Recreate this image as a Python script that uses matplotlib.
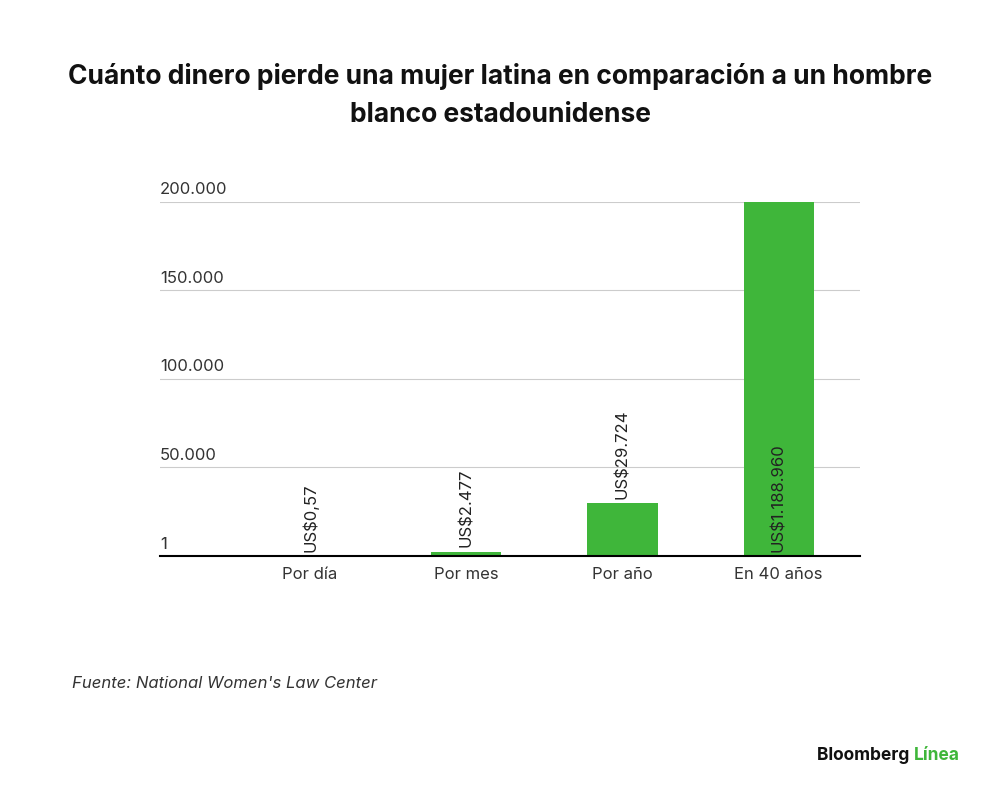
import matplotlib
matplotlib.use("Agg")
import matplotlib.pyplot as plt
import matplotlib.transforms as mt

categories = ["Por día", "Por mes", "Por año", "En 40 años"]
values = [0.57, 2477, 29724, 1188960]
labels = ["US$0,57", "US$2.477", "US$29.724", "US$1.188.960"]
yticks = [0, 50000, 100000, 150000, 200000]
ytick_labels = ["1", "50.000", "100.000", "150.000", "200.000"]
ymax = 200000

plt.rcParams['font.family'] = ['Inter', 'DejaVu Sans']
fig = plt.figure(figsize=(10, 8), dpi=100)
ax = fig.add_axes([0.16, 0.305, 0.70, 0.443])
green = "#3fb63a"
x = list(range(len(categories)))
heights = [min(v, ymax) for v in values]
ax.bar(x, heights, width=0.45, color=green, zorder=2)
ax.set_xlim(-0.96, 3.52)
ax.set_ylim(0, ymax)
for s in ["top", "right", "left"]:
    ax.spines[s].set_visible(False)
ax.spines["bottom"].set_linewidth(1.5)
ax.set_yticks(yticks)
ax.set_yticklabels([])
ax.tick_params(axis="y", length=0)
ax.tick_params(axis="x", length=0, pad=8, labelsize=12, colors="#333333")
ax.set_xticks(x)
ax.set_xticklabels(categories)
for t in yticks[1:]:
    ax.axhline(t, color="#cccccc", lw=0.8, zorder=1)
tr = mt.blended_transform_factory(ax.transAxes, ax.transData)
for t, l in zip(yticks, ytick_labels):
    ax.text(0.0, t + 2500, l, transform=tr, ha="left", va="bottom", fontsize=12, color="#333333")
for xi, v, l in zip(x, values, labels):
    ypos = v if v <= ymax else 0
    ax.text(xi, ypos + 2500, l, rotation=90, ha="center", va="bottom", fontsize=12, color="#222222", zorder=3)

fig.text(0.5, 0.905, "Cuánto dinero pierde una mujer latina en comparación a un hombre",
         ha="center", va="center", fontsize=19, fontweight="bold", color="#111111")
fig.text(0.5, 0.856, "blanco estadounidense", ha="center", va="center",
         fontsize=19, fontweight="bold", color="#111111")
fig.text(0.072, 0.146, "Fuente: National Women's Law Center", ha="left", va="center",
         fontsize=12, style="italic", color="#333333")
t1 = fig.text(0.817, 0.056, "Bloomberg ", ha="left", va="center", fontsize=12.5,
              fontweight="bold", color="#111111")
fig.canvas.draw()
bb = t1.get_window_extent()
fig.text(bb.x1 / fig.dpi / 10, 0.056, "Línea", ha="left", va="center", fontsize=12.5,
         fontweight="bold", color=green)
fig.savefig("out.png", dpi=100, facecolor="white")
